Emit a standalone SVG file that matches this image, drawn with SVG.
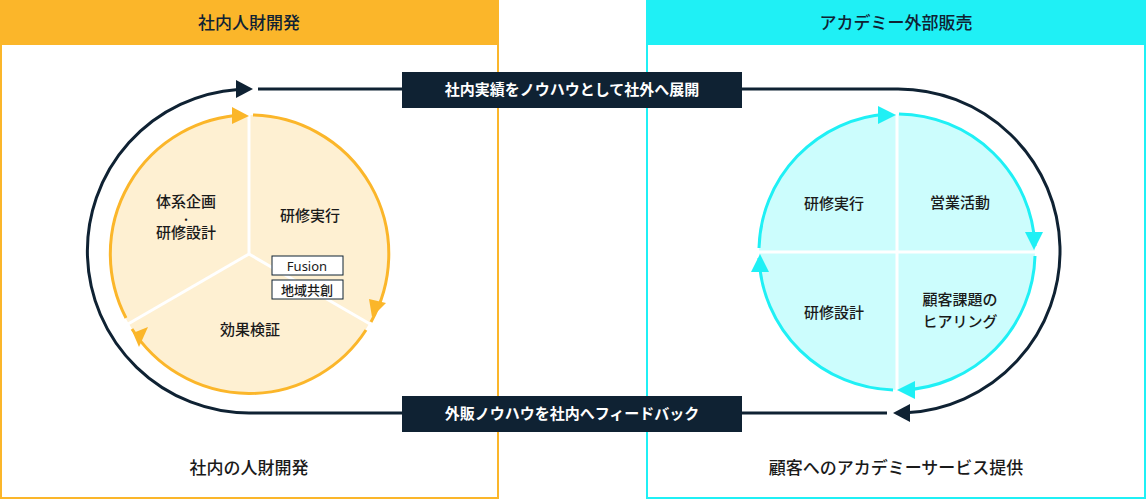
<svg xmlns="http://www.w3.org/2000/svg" width="1146" height="500" viewBox="0 0 1146 500">
<style>
text{font-family:"Noto Sans CJK JP","Noto Sans",sans-serif;fill:#1a1a1a;text-anchor:middle;font-weight:500}
.h{font-size:17px;fill:#0f2233}
.t{font-size:15px}
.w{font-size:15px;fill:#fff;font-weight:bold}
.b{font-size:17px}
.dk{fill:none;stroke:#0f2233;stroke-width:3}
.y{fill:none;stroke:#fbb62a;stroke-width:3}
.c{fill:none;stroke:#1ff0f5;stroke-width:3}
.div{stroke:#fff;stroke-width:3}
</style>
<g id="panel-left">
<rect x="1" y="1" width="497" height="497" fill="#fff" stroke="#fbb62a" stroke-width="2"/>
<rect x="0" y="0" width="499" height="45" fill="#fbb62a"/>
<text class="h" x="249" y="29">社内人財開発</text>
<text class="b" x="249" y="474">社内の人財開発</text>
</g>
<g id="panel-right">
<rect x="647" y="1" width="498" height="497" fill="#fff" stroke="#1ff0f5" stroke-width="2"/>
<rect x="646" y="0" width="500" height="45" fill="#1ff0f5"/>
<text class="h" x="896" y="29">アカデミー外部販売</text>
<text class="b" x="896" y="474">顧客へのアカデミーサービス提供</text>
</g>
<g id="cycle-left">
<circle cx="249" cy="254" r="139" fill="#fef0d2"/>
<line class="div" x1="249" y1="254" x2="249" y2="114"/>
<line class="div" x1="249" y1="254" x2="370" y2="324"/>
<line class="div" x1="249" y1="254" x2="128" y2="324"/>
<path class="y" d="M253,115 A139,139 0 0 1 371,322"/>
<path class="y" d="M366,330 A139,139 0 0 1 132,329"/>
<path class="y" d="M126,318 A139,139 0 0 1 243,115"/>
<path d="M232,107L249,116L232,124z" fill="#fbb62a"/>
<path d="M369,299L386,303L372,317z" fill="#fbb62a"/>
<path d="M148,327L133,333L139,347z" fill="#fbb62a"/>
<text class="t" x="186" y="207">体系企画<tspan x="186" y="222" style="font-size:8px;font-weight:bold">•</tspan><tspan x="186" y="238">研修設計</tspan></text>
<text class="t" x="310" y="221">研修実行</text>
<text class="t" x="250" y="335">効果検証</text>
<rect x="272" y="256" width="71" height="19" fill="#fff" stroke="#0f2233"/>
<text x="307" y="271" style="font-family:'Noto Sans',sans-serif;font-size:13px;font-weight:400">Fusion</text>
<rect x="272" y="280" width="71" height="19" fill="#fff" stroke="#0f2233"/>
<text x="307" y="295" style="font-size:13px">地域共創</text>
</g>
<g id="cycle-right">
<circle cx="897" cy="252" r="138" fill="#ccfdfd"/>
<line class="div" x1="759" y1="252" x2="1036" y2="252"/>
<line class="div" x1="897" y1="113" x2="897" y2="391"/>
<path class="c" d="M899,114 A138,138 0 0 1 1035,246"/>
<path class="c" d="M1035,256 A138,138 0 0 1 903,390"/>
<path class="c" d="M893,390 A138,138 0 0 1 759,258"/>
<path class="c" d="M759,248 A138,138 0 0 1 887,114"/>
<path d="M878,106L896,115L878,124z" fill="#1ff0f5"/>
<path d="M1025,232L1034,250L1043,232z" fill="#1ff0f5"/>
<path d="M915,381L897,390L915,399z" fill="#1ff0f5"/>
<path d="M751,272L760,254L769,272z" fill="#1ff0f5"/>
<text class="t" x="834" y="209">研修実行</text>
<text class="t" x="960" y="208">営業活動</text>
<text class="t" x="834" y="318">研修設計</text>
<text class="t" x="960" y="305">顧客課題の</text>
<text class="t" x="960" y="327">ヒアリング</text>
</g>
<g id="connectors">
<path class="dk" d="M249,413 A162,162 0 0 1 238,89.4"/>
<path d="M236,80L253,89L236,98z" fill="#0f2233"/>
<line class="dk" x1="249" y1="413" x2="402" y2="413"/>
<line class="dk" x1="258" y1="89" x2="402" y2="89"/>
<path class="dk" d="M742,89 L897,89 A162,162 0 0 1 906,412.8"/>
<path d="M910,404L893,413L910,422z" fill="#0f2233"/>
<line class="dk" x1="742" y1="413" x2="887" y2="413"/>
</g>
<g id="label-top">
<rect x="402" y="72" width="340" height="36" fill="#0f2233"/>
<text class="w" x="572" y="95">社内実績をノウハウとして社外へ展開</text>
</g>
<g id="label-bottom">
<rect x="402" y="396" width="340" height="36" fill="#0f2233"/>
<text class="w" x="572" y="419">外販ノウハウを社内へフィードバック</text>
</g>
</svg>
